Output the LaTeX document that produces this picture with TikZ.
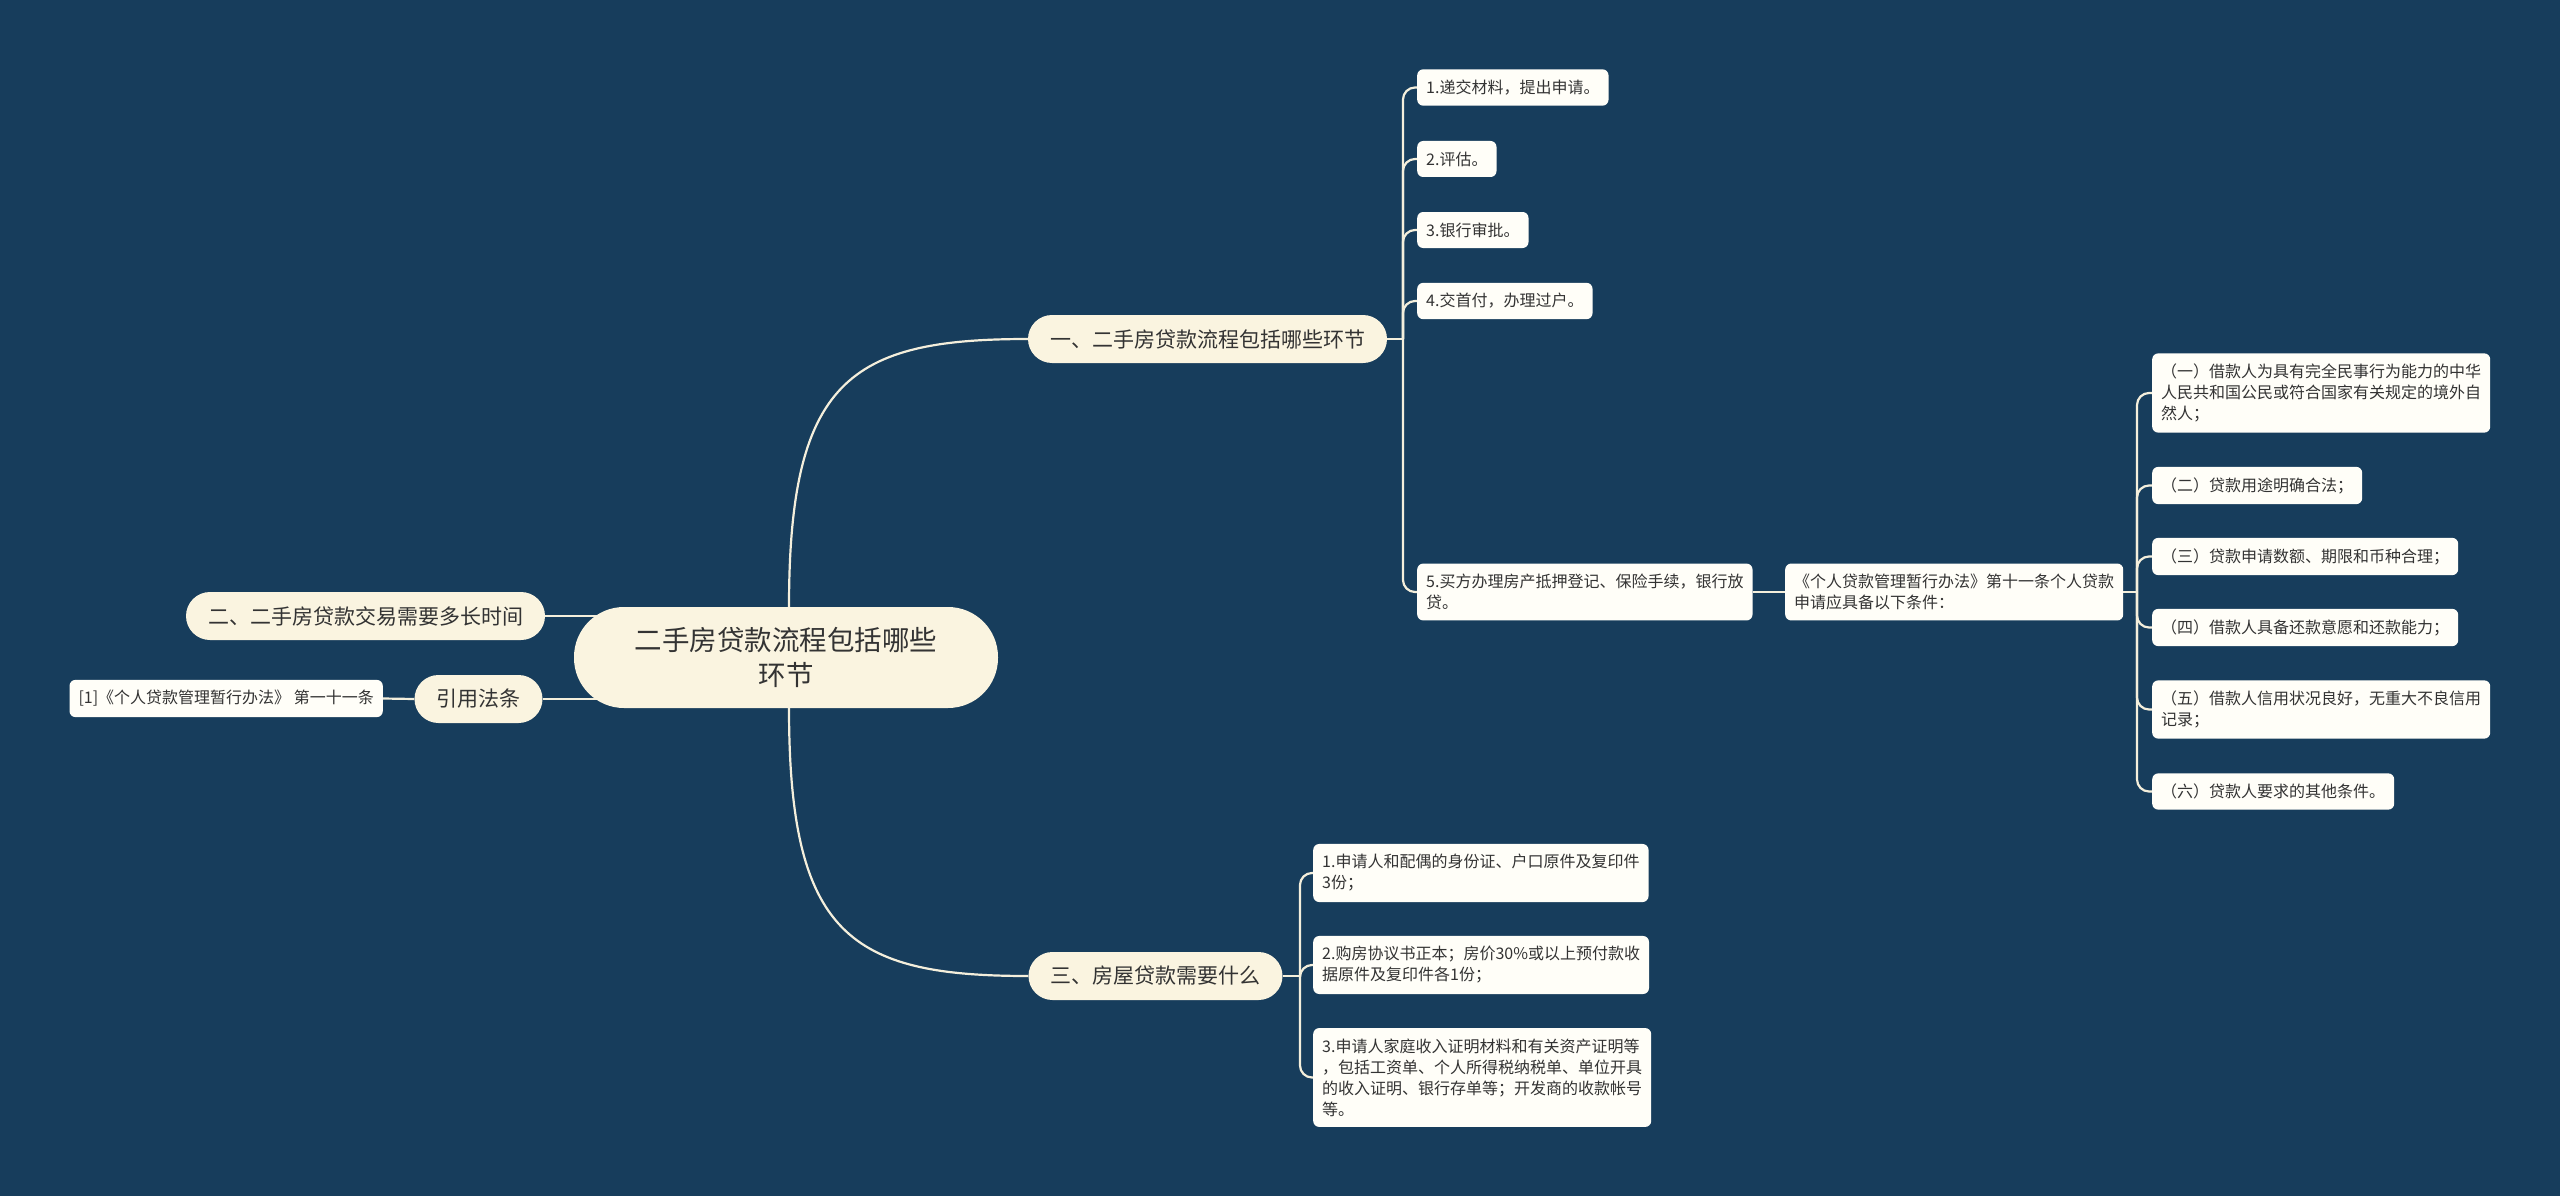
\documentclass[tikz,border=0pt]{standalone}
\usepackage{fontspec}
\setmainfont{Noto Sans CJK SC}
\usetikzlibrary{calc}
\definecolor{bg}{HTML}{173D5C}
\definecolor{cream}{HTML}{FAF4E0}
\definecolor{leafc}{HTML}{FFFEF8}
\definecolor{ink}{HTML}{333333}
\definecolor{wirec}{HTML}{F4EFDC}
\pgfdeclarelayer{back}
\pgfdeclarelayer{wires}
\pgfsetlayers{back,wires,main}
\begin{document}
\begin{tikzpicture}[x=1pt,y=-1pt,
  rootbox/.style={fill=cream, rounded corners=50pt, minimum width=424pt, minimum height=101pt, align=center, text=ink, font=\fontsize{27.5}{35}\selectfont, inner sep=0pt},
  mainbox/.style={fill=cream, rounded corners=24pt, minimum height=48pt, inner xsep=22pt, inner ysep=0pt, text=ink, font=\fontsize{21}{26}\selectfont},
  leafbox/.style={fill=leafc, rounded corners=6pt, minimum height=36pt, inner xsep=9pt, inner ysep=10.5pt, align=left, text=ink, font=\fontsize{16}{21}\selectfont, anchor=west},
  wire/.style={draw=wirec, line width=2.2pt},
  fork/.style={wire, rounded corners=12pt}
]
\useasboundingbox (0,0) rectangle (2560,1196);
\begin{pgfonlayer}{back}
\fill[bg] (0,0) rectangle (2560,1196);
\end{pgfonlayer}

% main nodes
\node[rootbox] (root) at (786,657.5) {二手房贷款流程包括哪些\\环节};
\node[mainbox] (b1) at (1207.5,339) {一、二手房贷款流程包括哪些环节};
\node[mainbox] (b2) at (365.5,616) {二、二手房贷款交易需要多长时间};
\node[mainbox] (b4) at (478.5,699) {引用法条};
\node[mainbox] (b3) at (1155.5,976) {三、房屋贷款需要什么};
\node[leafbox, anchor=east] (ref) at (383,698.5) {[1]《个人贷款管理暂行办法》 第一十一条};

% branch 1 leaves
\node[leafbox] (l1) at (1417,87.5) {1.递交材料，提出申请。};
\node[leafbox] (l2) at (1417,159) {2.评估。};
\node[leafbox] (l3) at (1417,230) {3.银行审批。};
\node[leafbox] (l4) at (1417,301) {4.交首付，办理过户。};
\node[leafbox] (l5) at (1417,592) {5.买方办理房产抵押登记、保险手续，银行放\\贷。};
\node[leafbox] (law) at (1785,592) {《个人贷款管理暂行办法》第十一条个人贷款\\申请应具备以下条件：};

% conditions
\node[leafbox] (s1) at (2152,393) {（一）借款人为具有完全民事行为能力的中华\\人民共和国公民或符合国家有关规定的境外自\\然人；};
\node[leafbox] (s2) at (2152,485.5) {（二）贷款用途明确合法；};
\node[leafbox] (s3) at (2152,556.5) {（三）贷款申请数额、期限和币种合理；};
\node[leafbox] (s4) at (2152,627.5) {（四）借款人具备还款意愿和还款能力；};
\node[leafbox] (s5) at (2152,709.5) {（五）借款人信用状况良好，无重大不良信用\\记录；};
\node[leafbox] (s6) at (2152,791.5) {（六）贷款人要求的其他条件。};

% branch 3 leaves
\node[leafbox] (m1) at (1313,873) {1.申请人和配偶的身份证、户口原件及复印件\\3份；};
\node[leafbox] (m2) at (1313,965) {2.购房协议书正本；房价30\%或以上预付款收\\据原件及复印件各1份；};
\node[leafbox] (m3) at (1313,1077.5) {3.申请人家庭收入证明材料和有关资产证明等\\，包括工资单、个人所得税纳税单、单位开具\\的收入证明、银行存单等；开发商的收款帐号\\等。};

\begin{pgfonlayer}{wires}
\coordinate (rc) at (789,657);
\coordinate (rt) at (789,607);
\coordinate (rb) at (789,708);
\draw[wire] (rc) -- (rt) .. controls (789,380) and (850,339) .. (b1.west);
\draw[wire] (rc) -- (rb) .. controls (789,935) and (850,976) .. (b3.west);
\draw[wire] (b2.east) -- (b2.east -| rc);
\draw[wire] (b4.east) -- (b4.east -| rc);
\draw[wire] (ref.east) -- (b4.west);

\coordinate (f1) at (1403,339);
\draw[wire] (b1.east) -- (f1);
\foreach \c in {l1,l2,l3,l4,l5} \draw[fork] (f1) |- (\c.west);
\draw[wire] (l5.east) -- (law.west);

\coordinate (f2) at (2137,592);
\draw[wire] (law.east) -- (f2);
\foreach \c in {s1,s2,s3,s4,s5,s6} \draw[fork] (f2) |- (\c.west);

\coordinate (f3) at (1300,976);
\draw[wire] (b3.east) -- (f3);
\foreach \c in {m1,m2,m3} \draw[fork] (f3) |- (\c.west);
\end{pgfonlayer}
\end{tikzpicture}
\end{document}
